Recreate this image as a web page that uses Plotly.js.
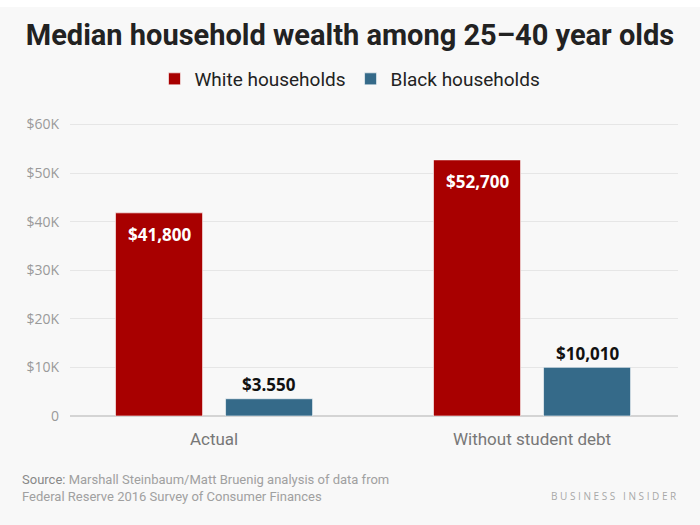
<!DOCTYPE html>
<html>
<head>
<meta charset="utf-8">
<script src="https://cdn.plot.ly/plotly-3.0.1.min.js"></script>
<style>
html,body{margin:0;padding:0;background:#ffffff;}
#chart{width:700px;height:525px;}
</style>
</head>
<body>
<div id="chart"></div>
<script>
const categories = ["Actual", "Without student debt"];
const whiteValues = [41800, 52700];
const blackValues = [3550, 10010];
const whiteLabels = ["$41,800", "$52,700"];
const blackLabels = ["$3.550", "$10,010"];
const tickValues = [0, 10000, 20000, 30000, 40000, 50000, 60000];
const tickLabels = ["0", "$10K", "$20K", "$30K", "$40K", "$50K", "$60K"];

const RED = "#a80000";
const BLUE = "#356a89";
const labelFont = "'Open Sans', 'DejaVu Sans', sans-serif";

const traces = [
  {
    type: "bar", name: "White households", x: categories, y: whiteValues,
    marker: {color: RED, line: {color: "#ffffff", width: 0.6}},
    hoverinfo: "none"
  },
  {
    type: "bar", name: "Black households", x: categories, y: blackValues,
    marker: {color: BLUE, line: {color: "#ffffff", width: 0.6}},
    hoverinfo: "none"
  }
];

const offset = 0.173;
const annotations = [];
categories.forEach((c, i) => {
  annotations.push({
    x: i - offset, y: whiteValues[i], xref: "x", yref: "y",
    text: whiteLabels[i], showarrow: false, yanchor: "middle", yshift: -22,
    font: {family: labelFont, size: 17, color: "#ffffff", weight: 700}
  });
  annotations.push({
    x: i + offset, y: blackValues[i], xref: "x", yref: "y",
    text: blackLabels[i], showarrow: false, yanchor: "middle", yshift: 14,
    font: {family: labelFont, size: 17, color: "#111111", weight: 700}
  });
});

// plot area: top 122px, bottom 416px (294px tall)
annotations.push({
  xref: "paper", yref: "paper", x: -0.082, xanchor: "left",
  y: (416 - 488) / 294, yanchor: "middle", align: "left", showarrow: false,
  text: "<span style='color:#888888'>Source:</span> Marshall Steinbaum/Matt Bruenig analysis of data from<br>Federal Reserve 2016 Survey of Consumer Finances",
  font: {family: "Roboto, sans-serif", size: 13, color: "#a0a0a0"}
});
annotations.push({
  xref: "paper", yref: "paper", x: 1, xanchor: "right",
  y: (416 - 496) / 294, yanchor: "middle", showarrow: false,
  text: "B U S I N E S S   I N S I D E R",
  font: {family: "'Open Sans', sans-serif", size: 10, color: "#a8a8a8"}
});

const layout = {
  width: 700, height: 525,
  paper_bgcolor: "#f8f8f8", plot_bgcolor: "#f8f8f8",
  margin: {l: 70, r: 22, t: 122, b: 109},
  title: {
    text: "<b>Median household wealth among 25–40 year olds</b>",
    x: 0.5, xanchor: "center", xref: "container",
    y: 1 - 35 / 525, yanchor: "middle", yref: "container",
    font: {family: "Roboto, sans-serif", size: 29, color: "#222222", weight: 900}
  },
  barmode: "group", bargap: 0.308, bargroupgap: 0.209,
  showlegend: true,
  legend: {
    orientation: "h", xref: "container", yref: "container",
    x: 0.5, xanchor: "center", y: 1 - 79 / 525, yanchor: "middle",
    font: {family: "Roboto, sans-serif", size: 19, color: "#222222"},
    bgcolor: "rgba(0,0,0,0)", itemclick: false, itemdoubleclick: false
  },
  xaxis: {
    type: "category", range: [-0.453, 1.459], fixedrange: true,
    showgrid: false, zeroline: false, showline: false, ticks: "",
    tickfont: {family: "Roboto, sans-serif", size: 17, color: "#777777"},
    ticklabelstandoff: 11
  },
  yaxis: {
    range: [0, 60500], fixedrange: true,
    tickvals: tickValues, ticktext: tickLabels,
    showgrid: true, gridcolor: "#e6e6e6", gridwidth: 1,
    zeroline: true, zerolinecolor: "#d4d4d4", zerolinewidth: 1.5,
    showline: false, ticks: "",
    tickfont: {family: labelFont, size: 14, color: "#9a9a9a"},
    ticklabelstandoff: 10
  },
  annotations: annotations,
  shapes: [{
    type: "rect", xref: "paper", yref: "paper", layer: "below",
    x0: -0.2, x1: 1.1, y0: 1 + 115 / 294, y1: 1 + 140 / 294,
    fillcolor: "#ffffff", line: {width: 0}
  }]
};

Plotly.newPlot("chart", traces, layout, {displayModeBar: false, staticPlot: true});
</script>
</body>
</html>
